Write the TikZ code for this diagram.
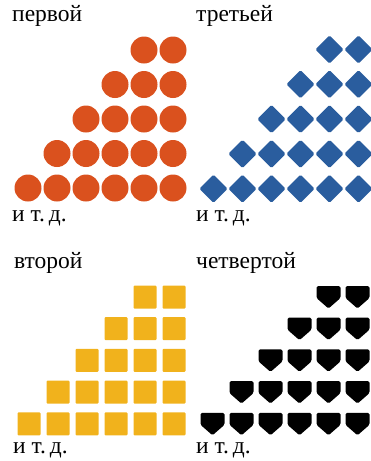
\documentclass[tikz,border=0pt]{standalone}
\usepackage{fontspec}
\setmainfont{Liberation Serif}
\usetikzlibrary{shapes.geometric}

\definecolor{dotorange}{RGB}{218,81,30}
\definecolor{diamblue}{RGB}{42,93,158}
\definecolor{boxyellow}{RGB}{241,178,28}

\begin{document}
\begin{tikzpicture}[
        x=1pt, y=-1pt,
        caption/.style={
            anchor=base west,
            inner sep=0pt,
            font=\fontsize{23.5}{25}\selectfont
        },
        dot/.style={
            circle,
            fill=dotorange,
            minimum size=27pt,
            inner sep=0pt
        },
        diam/.style={
            diamond,
            fill=diamblue,
            minimum width=28.5pt,
            minimum height=28.5pt,
            inner sep=0pt,
            rounded corners=1.5pt
        },
        box/.style={
            rectangle,
            fill=boxyellow,
            minimum size=23pt,
            inner sep=0pt,
            rounded corners=1pt
        }
    ]
    \useasboundingbox (0,0) rectangle (370,461);

    % first: circles
    \node[caption] (first) at (12,21) {первой};
    \foreach \r [evaluate=\r as \n using int(\r+1)] in {0,...,4}
        \foreach \c in {0,...,\n}
            \node[dot] (o-\r-\c) at ({173-29*\c},{50+34.5*\r}) {};
    \node[caption] (first-etc) at (12,221) {и т.\,д.};

    % third: diamonds
    \node[caption] (third) at (196,21) {третьей};
    \foreach \r [evaluate=\r as \n using int(\r+1)] in {0,...,4}
        \foreach \c in {0,...,\n}
            \node[diam] (d-\r-\c) at ({358.5-29*\c},{49.5+34.8*\r}) {};
    \node[caption] (third-etc) at (196,221) {и т.\,д.};

    % second: squares
    \node[caption] (second) at (14,268) {второй};
    \foreach \r [evaluate=\r as \n using int(\r+1)] in {0,...,4}
        \foreach \c in {0,...,\n}
            \node[box] (s-\r-\c) at ({174-29*\c},{297+31.7*\r}) {};
    \node[caption] (second-etc) at (13,453) {и т.\,д.};

    % fourth: shields
    \node[caption] (fourth) at (196,268) {четвертой};
    \foreach \r [evaluate=\r as \n using int(\r+1)] in {0,...,4}
        \foreach \c in {0,...,\n}
            \fill[rounded corners=1.5pt]
                ({357.5-29*\c-12},{286+31.7*\r})
                -- ++(24,0) -- ++(0,12)
                -- ++(-12,10.5) -- ++(-12,-10.5) -- cycle;
    \node[caption] (fourth-etc) at (196,453) {и т.\,д.};
\end{tikzpicture}
\end{document}
